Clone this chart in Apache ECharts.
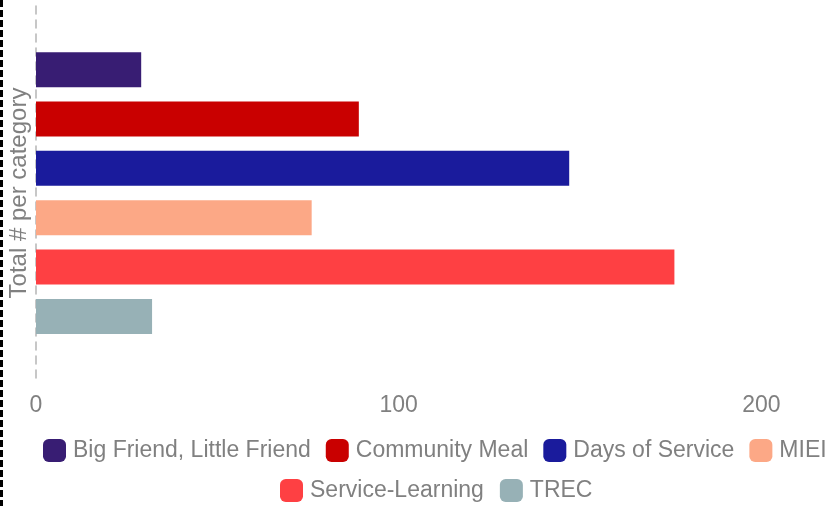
<!DOCTYPE html>
<html>
<head>
<meta charset="utf-8">
<script src="https://cdn.jsdelivr.net/npm/echarts@6/dist/echarts.min.js"></script>
<style>
  html, body { margin: 0; padding: 0; background: #fff; }
  #chart { width: 834px; height: 506px; }
</style>
</head>
<body>
<div id="chart"></div>
<script>
const categoryLabel = ["Total # per category"];
const seriesNames = [
  "Big Friend, Little Friend",
  "Community Meal",
  "Days of Service",
  "MIEI",
  "Service-Learning",
  "TREC",
];
const seriesValues = [29, 89, 147, 76, 176, 32];
const seriesColors = ["#381d73", "#c90000", "#1a1b9c", "#fca886", "#fe4043", "#97b1b6"];
const xTicks = [0, 100, 200];

const chart = echarts.init(document.getElementById("chart"));

const textColor = "#808080";
const fontFamily = "Liberation Sans, Arial, sans-serif";

// one series per program, all in the single category
const series = seriesNames.map((name, i) => ({
  name,
  type: "bar",
  data: [seriesValues[i]],
  barWidth: 35,
  barGap: "41%",
  itemStyle: { color: seriesColors[i] },
}));

const legendText = { color: textColor, fontSize: 23, fontFamily, padding: [0, 0, 0, 2] };

const option = {
  animation: false,
  textStyle: { fontFamily },
  grid: {
    left: 36,
    right: 0,
    top: 6,
    bottom: 126,
    containLabel: false,
    outerBoundsMode: "none",
  },
  xAxis: {
    type: "value",
    min: xTicks[0],
    max: 220,
    interval: 100,
    axisLine: { show: false },
    axisTick: { show: false },
    splitLine: { show: false },
    axisLabel: {
      color: textColor,
      fontSize: 23,
      margin: 14,
      showMaxLabel: false,
      formatter: (v) => (xTicks.includes(v) ? String(v) : ""),
    },
  },
  yAxis: {
    type: "category",
    data: categoryLabel,
    inverse: true,
    axisTick: { show: false },
    axisLabel: { show: false },
    axisLine: {
      show: true,
      lineStyle: { color: "#b5b5b5", type: [8, 6], width: 1.5 },
    },
    name: categoryLabel[0],
    nameLocation: "middle",
    nameRotate: 90,
    nameGap: 5,
    nameTextStyle: { color: textColor, fontSize: 24 },
  },
  legend: [
    {
      data: seriesNames.slice(0, 4),
      left: 43,
      top: 439,
      padding: 0,
      itemWidth: 23,
      itemHeight: 23,
      itemGap: 15,
      icon: "roundRect",
      textStyle: legendText,
    },
    {
      data: seriesNames.slice(4),
      left: 280,
      top: 479,
      padding: 0,
      itemWidth: 23,
      itemHeight: 23,
      itemGap: 16,
      icon: "roundRect",
      textStyle: legendText,
    },
  ],
  graphic: [
    {
      type: "line",
      shape: { x1: 1.5, y1: 0, x2: 1.5, y2: 506 },
      style: { stroke: "#000", lineWidth: 3, lineDash: [7, 3] },
      silent: true,
    },
  ],
  series,
};

chart.setOption(option);
</script>
</body>
</html>
